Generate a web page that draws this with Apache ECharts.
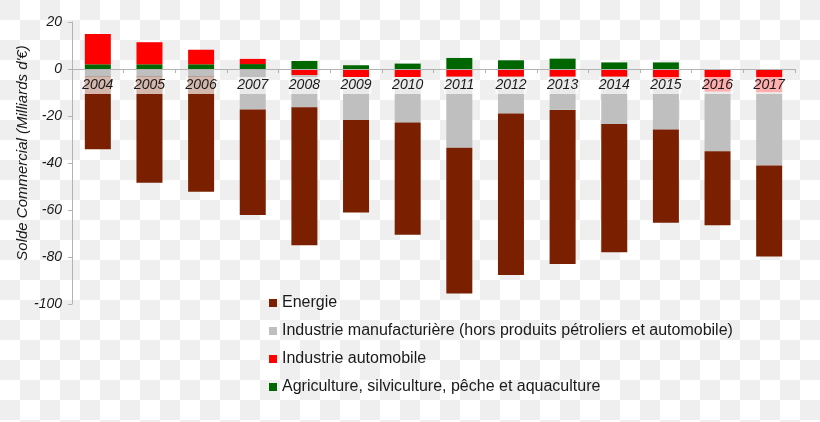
<!DOCTYPE html>
<html>
<head>
<meta charset="utf-8">
<script src="https://cdn.jsdelivr.net/npm/echarts@6/dist/echarts.min.js"></script>
<style>
html, body { margin:0; padding:0; }
body {
  width:820px; height:422px; overflow:hidden;
  background: repeating-conic-gradient(#ffffff 0% 25%, #efefef 0% 50%) 0 0 / 40px 40px;
}
#chart { width:820px; height:422px; }
</style>
</head>
<body>
<div id="chart"></div>
<script>
const years = ['2004','2005','2006','2007','2008','2009','2010','2011','2012','2013','2014','2015','2016','2017'];
const agriculture = [2.0, 2.0, 2.0, 2.1, 3.4, 1.6, 2.3, 4.7, 3.7, 4.4, 2.8, 2.8, 0, 0];
const automobile = [12.9, 9.4, 6.2, 2.2, -2.6, -3.5, -3.5, -3.3, -3.3, -3.3, -3.3, -4.3, -9.7, -10.0];
const manufacturiere = [-3.3, -3.3, -3.3, -17.2, -13.7, -18.2, -19.3, -30.2, -15.6, -14.1, -20.1, -21.4, -25.3, -31.1];
const energie = [-30.9, -45.1, -48.9, -44.9, -58.7, -39.4, -47.7, -62.0, -68.8, -65.6, -54.6, -39.7, -31.5, -38.7];
const yTicks = { min: -100, max: 20, step: 20 };
const names = {
  energie: 'Energie',
  manuf: 'Industrie manufacturière (hors produits pétroliers et automobile)',
  auto: 'Industrie automobile',
  agri: 'Agriculture, silviculture, pêche et aquaculture'
};
const yName = "Solde Commercial (Milliards d'€)";

const FONT = "'Liberation Sans', Arial, sans-serif";
const chart = echarts.init(document.getElementById('chart'), null, { renderer: 'canvas' });
const barW = 26;
function bar(name, data, color) {
  return { name, type: 'bar', stack: 'total', data, barWidth: barW,
    itemStyle: { color }, emphasis: { disabled: true } };
}
chart.setOption({
  animation: false,
  backgroundColor: 'transparent',
  textStyle: { fontFamily: FONT },
  grid: { left: 72, right: 25, top: 22, bottom: 118, containLabel: false },
  legend: {
    orient: 'vertical', left: 264, top: 290,
    itemWidth: 8, itemHeight: 8, itemGap: 12, icon: 'rect',
    textStyle: { fontSize: 16, color: '#1a1a1a', fontFamily: FONT },
    data: [names.energie, names.manuf, names.auto, names.agri]
  },
  xAxis: {
    type: 'category', data: years, z: 10, position: 'bottom', offset: 0,
    axisLine: { onZero: false, lineStyle: { color: '#b3b3b3', width: 1 } },
    axisTick: { show: true, length: 4, lineStyle: { color: '#b3b3b3' } },
    axisLabel: {
      interval: 0, fontSize: 14, fontStyle: 'italic', color: '#1a1a1a', fontFamily: FONT,
      margin: 8, backgroundColor: 'rgba(255,255,255,0.68)', padding: [1, 0, 1, 0], lineHeight: 15
    }
  },
  yAxis: {
    type: 'value', min: yTicks.min, max: yTicks.max, interval: yTicks.step,
    name: yName, nameLocation: 'middle', nameGap: 42, nameMoveOverlap: false,
    nameTextStyle: { fontSize: 15, fontStyle: 'italic', color: '#1a1a1a', fontFamily: FONT, padding: [0, 0, 0, 20] },
    axisLine: { show: true, lineStyle: { color: '#b3b3b3' } },
    axisTick: { show: true, length: 4, lineStyle: { color: '#b3b3b3' } },
    splitLine: { show: false },
    axisLabel: { fontSize: 14, fontStyle: 'italic', color: '#1a1a1a', margin: 10, fontFamily: FONT }
  },
  series: [
    bar(names.agri, agriculture, '#006600'),
    bar(names.auto, automobile, '#ff0000'),
    bar(names.manuf, manufacturiere, '#bfbfbf'),
    bar(names.energie, energie, '#7a2000')
  ]
});
// place the category axis on the zero line, using the value axis scale
const yZero = chart.convertToPixel({ yAxisIndex: 0 }, 0);
const yMinPx = chart.convertToPixel({ yAxisIndex: 0 }, yTicks.min);
chart.setOption({ xAxis: { offset: -(yMinPx - yZero) } });
</script>
</body>
</html>
